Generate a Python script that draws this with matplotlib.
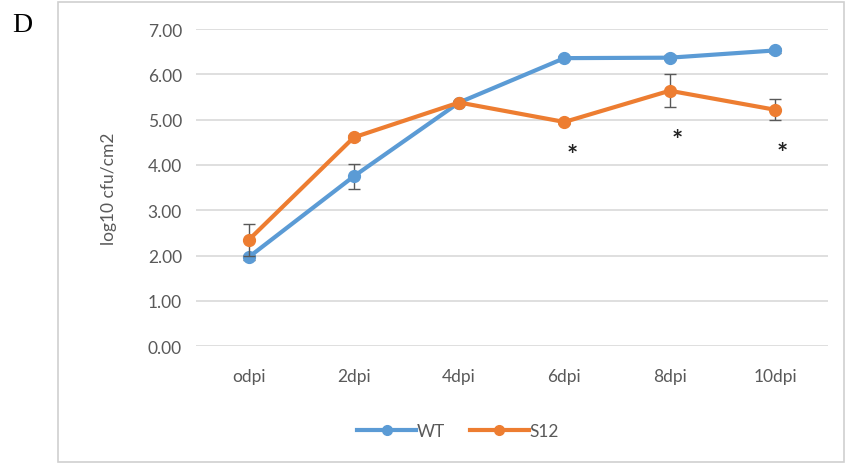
import matplotlib.pyplot as plt
from matplotlib.patches import Rectangle
from matplotlib.lines import Line2D

# данні з графіка
days = ["odpi", "2dpi", "4dpi", "6dpi", "8dpi", "10dpi"]
wt = [1.96, 3.75, 5.38, 6.36, 6.37, 6.53]
wt_err = [0.05, 0.27, 0.04, 0.05, 0.05, 0.05]
s12 = [2.34, 4.61, 5.38, 4.95, 5.64, 5.22]
s12_err = [0.36, 0.05, 0.04, 0.05, 0.36, 0.23]
star_idx = [3, 4, 5]
star_y = [4.22, 4.55, 4.26]

plt.rcParams['font.family'] = ['Lato', 'DejaVu Sans']

fig = plt.figure(figsize=(8.48, 4.64), dpi=100)
ax = fig.add_axes([0.231, 0.252, 0.745, 0.683])

x = list(range(len(days)))
blue = "#5B9BD5"
orange = "#ED7D31"
grey = "#595959"

ax.errorbar(x, wt, yerr=wt_err, color=blue, lw=3, marker='o', ms=8.5,
            ecolor=grey, elinewidth=1, capsize=4, capthick=1, zorder=3)
ax.errorbar(x, s12, yerr=s12_err, color=orange, lw=3, marker='o', ms=8.5,
            ecolor=grey, elinewidth=1, capsize=4, capthick=1, zorder=4)

for i, y in zip(star_idx, star_y):
    ax.text(i + 0.07, y, "*", ha='center', va='center', fontsize=19,
            color="#222222", fontweight='bold')

ax.set_xlim(-0.5, len(days) - 0.5)
ax.set_ylim(0, 7)
ax.set_yticks([0, 1, 2, 3, 4, 5, 6, 7])
ax.set_yticklabels([f"{v:.2f}" for v in range(8)])
ax.set_xticks(x)
ax.set_xticklabels(days)
ax.tick_params(length=0, labelsize=12.5, colors=grey, pad=10)
ax.tick_params(axis='x', pad=16)
ax.grid(axis='y', color="#d9d9d9", lw=1.2)
ax.set_axisbelow(True)
for s in ax.spines.values():
    s.set_visible(False)
ax.set_ylabel("log10 cfu/cm2", fontsize=12.5, color=grey, labelpad=22)

handles = [Line2D([], [], color=blue, lw=3, marker='o', ms=7),
           Line2D([], [], color=orange, lw=3, marker='o', ms=7)]
leg = fig.legend(handles, ["WT", "S12"], loc='center', bbox_to_anchor=(0.54, 0.068),
                 ncol=2, frameon=False, fontsize=12.5, handlelength=3.4,
                 columnspacing=1.4, handletextpad=0.05)
for t in leg.get_texts():
    t.set_color(grey)

# рамка навколо області діаграми
fig.patches.append(Rectangle((58 / 848, 0.003), 0.995 - 58 / 848, 0.99,
                             transform=fig.transFigure, fill=False,
                             edgecolor="#d0d0d0", lw=1.2))

fig.text(12 / 848, 1 - 25 / 464, "D", fontsize=20, family="Liberation Serif",
         ha='left', va='center', color="black")

fig.savefig("out.png", dpi=100)
